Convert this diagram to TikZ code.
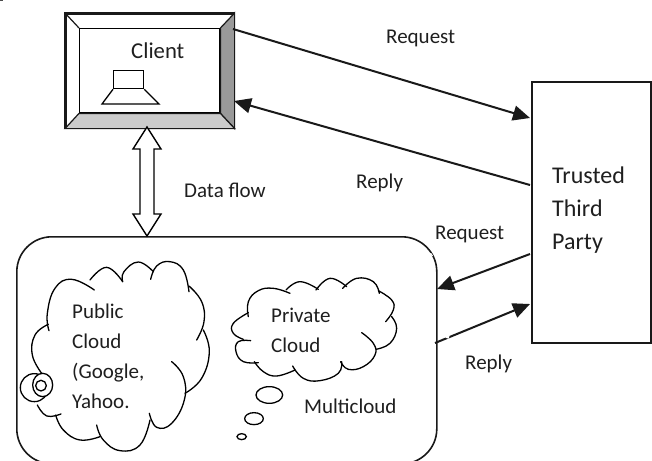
\documentclass[tikz,border=0pt]{standalone}
\usepackage{fontspec}
\setmainfont{Carlito}
\usetikzlibrary{arrows.meta}
\tikzset{
  label text/.style={font=\fontsize{21}{25}\selectfont,text=black!88,inner sep=0pt,anchor=base west},
  big text/.style={label text,font=\fontsize{24}{28}\selectfont},
  client text/.style={label text,font=\fontsize{22.7}{27}\selectfont},
  box/.style={draw=black!90,line width=1.6pt,inner sep=0pt},
  link/.style={draw=black!90,line width=2pt,-{Triangle[length=17pt,width=15pt]}},
  cloudline/.style={draw=black,line width=1.3pt,line cap=round},
  thin shape/.style={draw=black,line width=1.3pt},
  nick/.style={draw=white,line width=2.6pt},
}
\newcommand{\lobe}[1]{\draw[cloudline] plot[smooth,tension=.75] coordinates {#1};}
\begin{document}
\begin{tikzpicture}[x=1pt,y=-1pt]
\useasboundingbox (0,0) rectangle (652,460);
\clip (0,0) rectangle (652,460);
\fill[white] (0,0) rectangle (652,460);
\fill[black!70] (0,0) rectangle (3,1.2);
% multicloud container
\node[box,minimum width=420pt,minimum height=227pt,rounded corners=35pt,anchor=north west] (mc) at (16,236) {};
% client bevel
\node[box,minimum width=168pt,minimum height=114pt,anchor=north west] (client) at (65,13) {};
\node[thin shape,line width=1.4pt,minimum width=140pt,minimum height=84pt,anchor=north west,inner sep=0pt] (screen) at (79,28) {};
\fill[black!40,draw=black!90,line width=1.2pt] (client.north east) -- (screen.north east) -- (screen.south east) -- (client.south east) -- cycle;
\fill[black!20,draw=black!90,line width=1.2pt] (client.south west) -- (screen.south west) -- (screen.south east) -- (client.south east) -- cycle;
\draw[black!90,line width=1.2pt] (client.north west) -- (screen.north west);
\draw[box] (client.north west) rectangle (client.south east);
% laptop
\node[thin shape,minimum width=30pt,minimum height=18pt,inner sep=0pt,anchor=north west] (lid) at (113,70) {};
\draw[thin shape,line join=miter] (lid.south west) -- (102,104) -- (159,104) -- (lid.south east);
% data flow arrow
\draw[thin shape,line width=1.4pt,fill=white] (147,127) -- (161,149) -- (154,149) -- (154,214) -- (161,214) -- (147,236) -- (133,214) -- (140,214) -- (140,149) -- (133,149) -- cycle;
% TTP
\node[box,minimum width=119pt,minimum height=261pt,anchor=north west] (ttp) at (531,81) {};
% connectors
\coordinate (c1) at (233,29);
\coordinate (t1) at (530,118);
\coordinate (t2) at (530,185);
\coordinate (c2) at (234,101);
\coordinate (t3) at (530,254);
\coordinate (m1) at (437,289);
\coordinate (m2) at (435,343);
\coordinate (t4) at (530,304);
\draw[link] (c1) -- (t1);
\draw[link] (t2) -- (c2);
\draw[link] (t3) -- (m1);
\draw[link] (m2) -- (t4);
% scan nicks in the reference lines
\draw[nick] (446,336.5) -- (449,337.5);
\draw[nick] (537,341) -- (539.5,341);
\draw[nick,line width=1pt] (430.5,253) -- (432.5,256);
% public cloud
\begin{scope}[shift={(0pt,-230pt)},x=0.3333pt,y=-0.3333pt]
\lobe{(147,302) (142,250) (165,175) (215,148) (283,180)}
\lobe{(270,150) (320,112) (368,155)}
\lobe{(368,155) (372,125) (415,96) (460,125)}
\lobe{(452,148) (470,108) (510,95) (550,120) (567,185)}
\lobe{(567,168) (605,215) (612,275) (590,330)}
\lobe{(610,300) (628,365) (605,445) (555,490)}
\lobe{(515,395) (550,440) (553,510) (515,580) (470,592) (448,550)}
\lobe{(450,570) (420,645) (360,662) (310,630) (290,585)}
\lobe{(300,620) (240,630) (190,600) (167,555)}
\lobe{(183,552) (140,558) (112,525)}
\lobe{(125,430) (97,375) (105,315) (145,283)}
\draw[thin shape] (103,473) circle[radius=42];
\draw[thin shape,fill=white] (128,465) ellipse[x radius=30,y radius=35];
\draw[thin shape] (123,467) circle[radius=16];
\end{scope}
% private cloud
\begin{scope}[shift={(220pt,-230pt)},x=0.3333pt,y=-0.3333pt]
\lobe{(85,260) (85,215) (115,182) (160,175) (210,190)}
\lobe{(198,180) (240,155) (295,178)}
\lobe{(288,180) (330,145) (380,170)}
\lobe{(368,175) (410,145) (460,155) (478,190)}
\lobe{(475,182) (515,210) (520,240) (497,275)}
\lobe{(515,260) (530,295) (510,340) (468,358)}
\lobe{(425,308) (460,340) (465,375) (430,410) (385,418) (362,395)}
\lobe{(365,395) (355,430) (300,452) (250,445) (218,408)}
\lobe{(225,420) (170,438) (130,425) (103,395)}
\lobe{(115,398) (70,395) (48,365) (55,335) (92,332)}
\lobe{(70,328) (40,310) (40,280) (85,248)}
\draw[thin shape] (148,495) ellipse[x radius=40,y radius=25];
\draw[thin shape] (102,566) ellipse[x radius=28,y radius=18];
\draw[thin shape] (65,620) ellipse[x radius=14,y radius=9];
\end{scope}
% labels
\node[client text] (lclient) at (131,58) {Client};
\node[label text] (lreq1) at (386,44) {Request};
\node[label text] (lrep1) at (356,188) {Reply};
\node[label text] (ldata) at (184,197) {Data flow};
\node[label text] (lreq2) at (435,239) {Request};
\node[label text] (lrep2) at (465,369) {Reply};
\node[big text] (lt1) at (552,183) {Trusted};
\node[big text] (lt2) at (552,216) {Third};
\node[big text] (lt3) at (552,249) {Party};
\node[label text] (lp1) at (72,318) {Public};
\node[label text] (lp2) at (72,348) {Cloud};
\node[label text] (lp3) at (72,378) {(Google,};
\node[label text] (lp4) at (72,408) {Yahoo.};
\node[label text] (lq1) at (271,322) {Private};
\node[label text] (lq2) at (271,352) {Cloud};
\node[label text] (lmc) at (304,413) {Multicloud};
\end{tikzpicture}
\end{document}
